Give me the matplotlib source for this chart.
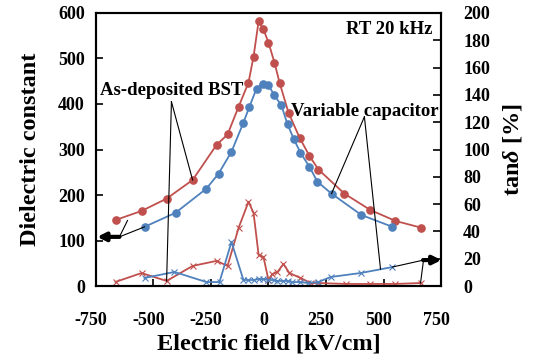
import matplotlib
matplotlib.use("Agg")
import matplotlib.pyplot as plt
from matplotlib.transforms import ScaledTranslation

plt.rcParams['font.family'] = ['Liberation Serif', 'DejaVu Serif']
plt.rcParams['font.weight'] = 'bold'
plt.rcParams['axes.unicode_minus'] = False
plt.rcParams['mathtext.fontset'] = 'custom'
plt.rcParams['mathtext.rm'] = 'Liberation Serif:bold'
plt.rcParams['mathtext.it'] = 'Liberation Serif:italic:bold'

RED = '#C0504D'
BLUE = '#4F81BD'

# dielectric constant, as-deposited BST
bst_field = [-665, -552, -443, -330, -226, -178, -130, -87, -65, -43, -22, 0,
             26, 48, 87, 135, 178, 217, 330, 443, 552, 665]
bst_eps = [145, 165, 192, 233, 310, 333, 394, 447, 504, 582, 564, 535,
           491, 447, 381, 326, 286, 256, 203, 167, 143, 128]

# dielectric constant, variable capacitor
cap_field = [-539, -404, -270, -217, -161, -109, -83, -52, -26, 0,
             26, 56, 83, 109, 139, 178, 213, 274, 404, 539]
cap_eps = [130, 161, 214, 247, 295, 359, 394, 434, 445, 441,
           419, 397, 355, 324, 293, 262, 229, 203, 156, 130]

# tan delta [%], as-deposited BST
bst_tan_field = [-665, -552, -443, -330, -226, -178, -130, -87, -65, -43, -22, 0,
                 17, 39, 65, 91, 139, 183, 217, 335, 443, 552, 661]
bst_tan = [3.0, 9.5, 3.7, 14.7, 18.4, 14.7, 42.6, 61.7, 53.6, 22.8, 21.3, 4.4,
           8.8, 10.3, 16.1, 9.5, 5.9, 2.2, 2.2, 1.5, 1.5, 1.5, 2.2]

# tan delta [%], variable capacitor
cap_tan_field = [-539, -409, -270, -213, -161, -109, -87, -65, -43, -22, 0,
                 22, 39, 61, 83, 104, 139, 170, 217, 270, 400, 539]
cap_tan = [5.9, 10.3, 2.9, 2.9, 32.3, 4.4, 4.4, 4.4, 5.1, 5.1, 4.4,
           4.4, 3.7, 3.7, 3.7, 2.9, 2.9, 2.2, 2.9, 6.6, 9.5, 13.9]

x_ticks = [-750, -500, -250, 0, 250, 500, 750]

fig = plt.figure(figsize=(5.33, 3.58), dpi=100)
ax = fig.add_axes([0.1801, 0.2011, 0.6473, 0.7626])
ax2 = ax.twinx()

ax.plot(bst_field, bst_eps, '-o', color=RED, lw=1.3, ms=5.2)
ax.plot(cap_field, cap_eps, '-o', color=BLUE, lw=1.3, ms=5.2)
ax2.plot(bst_tan_field, bst_tan, '-x', color=RED, lw=1.3, ms=4, mew=0.8)
ax2.plot(cap_tan_field, cap_tan, '-x', color=BLUE, lw=1.3, ms=4, mew=0.8)

ax.set_xlim(-750, 750)
ax.set_ylim(0, 600)
ax2.set_ylim(0, 200)
ax.set_xticks(x_ticks)
ax.set_yticks(range(0, 601, 100))
ax2.set_yticks(range(0, 201, 20))

for a in (ax, ax2):
    for s in a.spines.values():
        s.set_linewidth(1.5)
ax.tick_params(axis='x', direction='in', length=5, width=1.2, pad=19, labelsize=13)
ax.tick_params(axis='y', direction='in', length=5, width=1.2, pad=8, labelsize=13)
ax2.tick_params(axis='y', direction='in', length=6, width=1.2, pad=16, labelsize=13)
for lab in ax.get_xticklabels():
    lab.set_transform(lab.get_transform() + ScaledTranslation(-0.05, 0, fig.dpi_scale_trans))

ax.set_xlabel('Electric field [kV/cm]', fontsize=17.5, fontweight='bold', labelpad=3)
ax.set_ylabel('Dielectric constant', fontsize=17.5, fontweight='bold', labelpad=12)
ax2.set_ylabel(r'tan$\mathit{\delta}$ [%]', fontsize=17.5, fontweight='bold', labelpad=8)

# annotations (right axis units)
ax2.text(713, 188, 'RT 20 kHz', ha='right', va='center', fontsize=13.5, fontweight='bold')
ax2.text(-734, 143, 'As-deposited BST', ha='left', va='center', fontsize=13.5, fontweight='bold')
ax2.text(96, 127.5, 'Variable capacitor', ha='left', va='center', fontsize=13.5, fontweight='bold')

lk = dict(color='black', lw=0.8)
ax2.plot([-422, -330], [135, 233 / 3], **lk)
ax2.plot([-422, -443], [135, 3.7], **lk)
ax2.plot([417, 274], [124, 203 / 3], **lk)
ax2.plot([417, 487], [124, 12.3], **lk)
ax2.plot([-648, -613], [36, 48], **lk)
ax2.plot([-648, -539], [36, 130 / 3], **lk)
ax2.plot([674, 539], [19, 13.9], **lk)
ax2.plot([674, 661], [19, 2.2], **lk)

ax2.annotate('', xy=(-745, 36), xytext=(-648, 36),
             arrowprops=dict(arrowstyle='-|>', lw=3, color='black',
                             mutation_scale=12, shrinkA=0, shrinkB=0))
ax2.annotate('', xy=(752, 19), xytext=(672, 19), annotation_clip=False,
             arrowprops=dict(arrowstyle='-|>', lw=3, color='black',
                             mutation_scale=12, shrinkA=0, shrinkB=0))

fig.savefig('out.png', dpi=100)
